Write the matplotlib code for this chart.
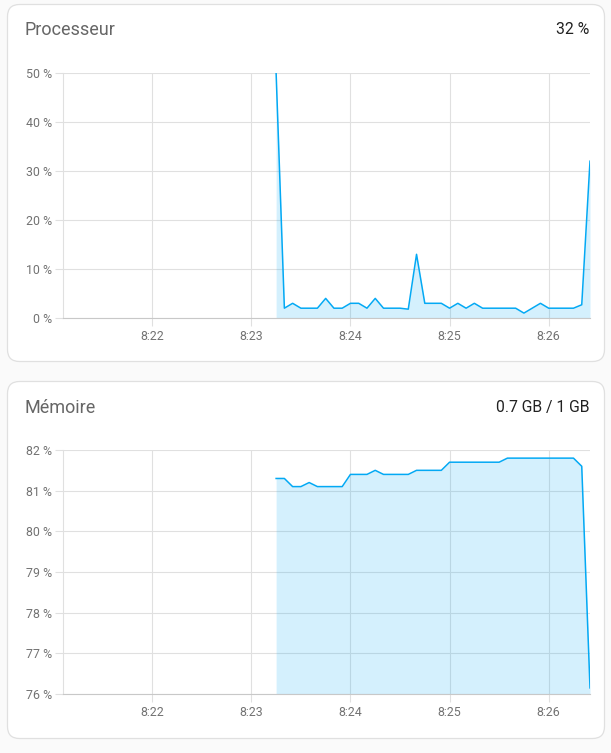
import matplotlib
matplotlib.use("Agg")
import matplotlib.pyplot as plt
import matplotlib.dates as mdates
from matplotlib.patches import FancyBboxPatch
import pandas as pd

# ---- data ----
start_time = "2024-01-01 08:23:15"
sample_interval = "5s"
cpu = [50, 2, 3, 2, 2, 2, 4, 2, 2, 3, 3, 2, 4, 2, 2, 2, 1.8, 13, 3, 3,
       3, 2, 3, 2, 3, 2, 2, 2, 2, 2, 1, 2, 3, 2, 2, 2, 2, 2.7, 32]
mem = [81.3, 81.3, 81.1, 81.1, 81.2, 81.1, 81.1, 81.1, 81.1, 81.4, 81.4, 81.4,
       81.5, 81.4, 81.4, 81.4, 81.4, 81.5, 81.5, 81.5, 81.5, 81.7, 81.7, 81.7,
       81.7, 81.7, 81.7, 81.7, 81.8, 81.8, 81.8, 81.8, 81.8, 81.8, 81.8, 81.8,
       81.8, 81.6, 76.15]
x_ticks = ["08:22", "08:23", "08:24", "08:25", "08:26"]
x_tick_labels = ["8:22", "8:23", "8:24", "8:25", "8:26"]
x_left = "2024-01-01 08:21:06"
cpu_yticks = [0, 10, 20, 30, 40, 50]
mem_yticks = [76, 77, 78, 79, 80, 81, 82]
titles = ["Processeur", "Mémoire"]
values = ["32 %", "0.7 GB / 1 GB"]

times = pd.date_range(start_time, periods=len(cpu), freq=sample_interval)
tick_times = [pd.Timestamp("2024-01-01 " + t) for t in x_ticks]

plt.rcParams['font.family'] = ['Roboto', 'DejaVu Sans']

W, H = 611, 753
fig = plt.figure(figsize=(W / 100, H / 100), dpi=100)
fig.patch.set_facecolor("#fafafa")

bg = fig.add_axes([0, 0, 1, 1])
bg.set_xlim(0, W)
bg.set_ylim(H, 0)
bg.axis("off")
bg.set_zorder(-10)

LINE = "#03a9f4"
GRID = "#e0e0e0"
TICKC = "#727272"

cards = [(7, 4, 598, 358), (7, 381, 598, 358)]
for (cx, cy, cw, ch) in cards:
    bg.add_patch(FancyBboxPatch((cx + 0.5, cy + 0.5), cw - 1, ch - 1,
                                boxstyle="round,pad=0,rounding_size=12",
                                facecolor="white", edgecolor="#e0e0e0", lw=0.9))

title_y = [29.5, 407.5]
for i in range(2):
    bg.text(24, title_y[i], titles[i], fontsize=13, color="#666666",
            ha="left", va="center")
    bg.text(589, title_y[i], values[i], fontsize=11.3, color="#212121",
            ha="right", va="center")

def make_ax(top_px, bottom_px):
    left_px, right_px = 63, 590
    return fig.add_axes([left_px / W, 1 - bottom_px / H,
                         (right_px - left_px) / W, (bottom_px - top_px) / H])

panels = [
    (73, 318, cpu, cpu_yticks, 0, 50),
    (450, 694, mem, mem_yticks, 76, 82),
]
for (top, bot, series, yt, ymin, ymax) in panels:
    ax = make_ax(top, bot)
    ax.set_facecolor("none")
    ax.fill_between(times, series, ymin, color=LINE, alpha=0.17, lw=0, zorder=2)
    ax.plot(times, series, color=LINE, lw=1.1, zorder=3, clip_on=True,
            solid_joinstyle="round")
    ax.set_xlim(pd.Timestamp(x_left), times[-1])
    ax.set_ylim(ymin, ymax)
    ax.set_yticks(yt)
    ax.set_yticklabels([f"{v} %" for v in yt])
    ax.set_xticks(tick_times)
    ax.set_xticklabels(x_tick_labels)
    ax.grid(True, color=GRID, lw=0.8, zorder=0)
    ax.set_axisbelow(True)
    for s in ["top", "right"]:
        ax.spines[s].set_visible(False)
    ax.spines["left"].set_color(GRID)
    ax.spines["left"].set_linewidth(0.8)
    ax.spines["bottom"].set_color("#c8c8c8")
    ax.spines["bottom"].set_linewidth(0.8)
    ax.tick_params(axis="y", length=5.8, width=0.8, color=GRID, pad=2.2,
                   labelsize=8.9, labelcolor=TICKC)
    ax.tick_params(axis="x", length=5.8, width=0.8, color=GRID, pad=3,
                   labelsize=8.9, labelcolor=TICKC)

fig.savefig("out.png", dpi=100, facecolor=fig.get_facecolor())
